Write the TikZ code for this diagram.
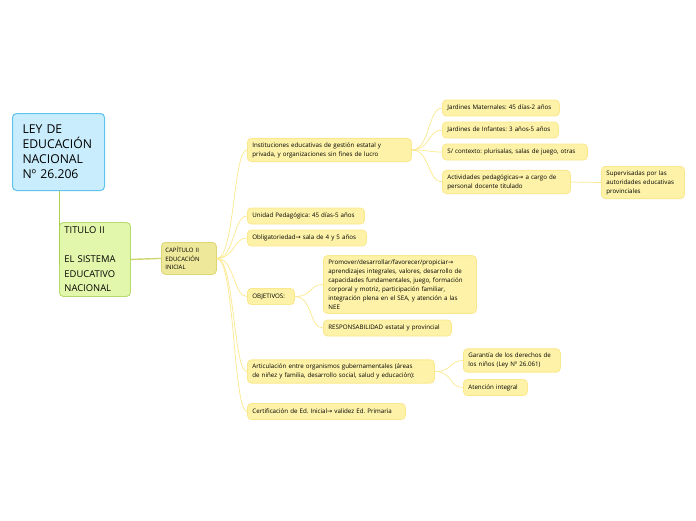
\documentclass[tikz,border=0pt]{standalone}
\usepackage{fontspec}
\setmainfont{Open Sans}
\newfontfamily\symfont{DejaVu Sans}
\newcommand{\rarr}{{\symfont →}}
\usepackage{xcolor}
\usetikzlibrary{positioning, arrows.meta}
\frenchspacing

\definecolor{rootfill}{HTML}{C9EDFC}
\definecolor{rootdraw}{HTML}{5EC3EF}
\definecolor{titfill}{HTML}{E3F7AC}
\definecolor{titdraw}{HTML}{B5DB6C}
\definecolor{titline}{HTML}{A8D04A}
\definecolor{capfill}{HTML}{EEE89A}
\definecolor{capdraw}{HTML}{DCD673}
\definecolor{leaffill}{HTML}{FDF2A8}
\definecolor{leafdraw}{HTML}{FBE88C}

\begin{document}
\begin{tikzpicture}[
        x=1pt, y=-1pt,
        rootbox/.style={draw=rootdraw, fill=rootfill, line width=1pt, rounded corners=4pt,
          anchor=north west, align=left, minimum width=92pt, minimum height=77pt,
          text width=72pt, inner xsep=10pt, font=\fontsize{12.2}{15}\selectfont},
        titlebox/.style={draw=titdraw, fill=titfill, line width=0.9pt, rounded corners=4pt,
          anchor=north west, align=left, minimum width=71pt, minimum height=74pt,
          text width=61pt, inner xsep=5pt, font=\fontsize{9.4}{14.5}\selectfont},
        chapbox/.style={draw=capdraw, fill=capfill, line width=0.8pt, rounded corners=4pt,
          anchor=north west, align=left, minimum width=55pt, minimum height=32pt,
          text width=47pt, inner xsep=4pt, font=\fontsize{6}{8.7}\selectfont},
        leaf/.style={draw=leafdraw, fill=leaffill, line width=0.8pt, rounded corners=4pt,
          anchor=west, align=left, minimum height=16pt, inner xsep=5pt, inner ysep=4pt,
          font=\fontsize{6.2}{9}\selectfont},
        branch/.style={draw=leafdraw, line width=0.7pt},
      ]
      \useasboundingbox (0,0) rectangle (696,520);

      \node[rootbox]  (ley) at (12,113) {LEY DE\\EDUCACIÓN\\NACIONAL\\Nº 26.206};
      \node[titlebox] (titulo) at (59,222) {TITULO II\\[14.5pt]EL SISTEMA\\EDUCATIVO\\NACIONAL};
      \node[chapbox]  (cap) at (161,242) {CAPÍTULO II\\EDUCACIÓN\\INICIAL};

      \node[leaf, text width=154pt] (inst) at (247,150)
        {Instituciones educativas de gestión estatal y\\privada, y organizaciones sin fines de lucro};
      \node[leaf, text width=107pt] (unidad) at (247,216) {Unidad Pedagógica: 45 días-5 años};
      \node[leaf, text width=109pt] (oblig) at (247,238) {Obligatoriedad\rarr\ sala de 4 y 5 años};
      \node[leaf, text width=37pt] (obj) at (247,296.5) {OBJETIVOS:};
      \node[leaf, text width=177pt] (artic) at (247,371.5)
        {Articulación entre organismos gubernamentales (áreas\\de niñez y familia, desarrollo social, salud y educación):};
      \node[leaf, text width=148pt] (cert) at (247,411.5) {Certificación de Ed. Inicial\rarr\ validez Ed. Primaria};

      \node[leaf, text width=107pt] (mat) at (442,108) {Jardines Maternales: 45 días-2 años};
      \node[leaf, text width=106pt] (inf) at (442,130) {Jardines de Infantes: 3 años-5 años};
      \node[leaf, text width=135pt] (ctx) at (442,152) {S/ contexto: plurisalas, salas de juego, otras};
      \node[leaf, text width=118pt] (act) at (442,182)
        {Actividades pedagógicas\rarr\ a cargo de\\personal docente titulado};
      \node[leaf, text width=73pt] (sup) at (601,182.5)
        {Supervisadas por las\\autoridades educativas\\provinciales};

      \node[leaf, text width=143pt] (prom) at (323,284.5)
        {Promover/desarrollar/favorecer/propiciar\rarr\\aprendizajes integrales, valores, desarrollo de\\capacidades fundamentales, juego, formación\\corporal y motriz, participación familiar,\\integración plena en el SEA, y atención a las\\NEE};
      \node[leaf, text width=118pt] (resp) at (323,328) {RESPONSABILIDAD estatal y provincial};

      \node[leaf, text width=87pt] (gar) at (463,360.5)
        {Garantía de los derechos de\\los niños (Ley Nº 26.061)};
      \node[leaf, text width=54pt] (aten) at (463,387.5) {Atención integral};

      \draw[titline, line width=1pt] (ley.south -| titulo.west) -- ([yshift=-6pt]titulo.west);
      \draw[capdraw!70!titdraw, line width=1.4pt] (titulo.east) -- (cap.west);

      \foreach \c in {inst, unidad, oblig, obj, artic, cert}
        \draw[branch] (cap.east) .. controls +(18,0) and +(-14,0) .. (\c.west);
      \foreach \c in {mat, inf, ctx, act}
        \draw[branch] (inst.east) .. controls +(18,0) and +(-14,0) .. (\c.west);
      \draw[branch] (act.east) -- (sup.west);
      \foreach \c in {prom, resp}
        \draw[branch] (obj.east) .. controls +(18,0) and +(-14,0) .. (\c.west);
      \foreach \c in {gar, aten}
        \draw[branch] (artic.east) .. controls +(18,0) and +(-14,0) .. (\c.west);
\end{tikzpicture}
\end{document}
